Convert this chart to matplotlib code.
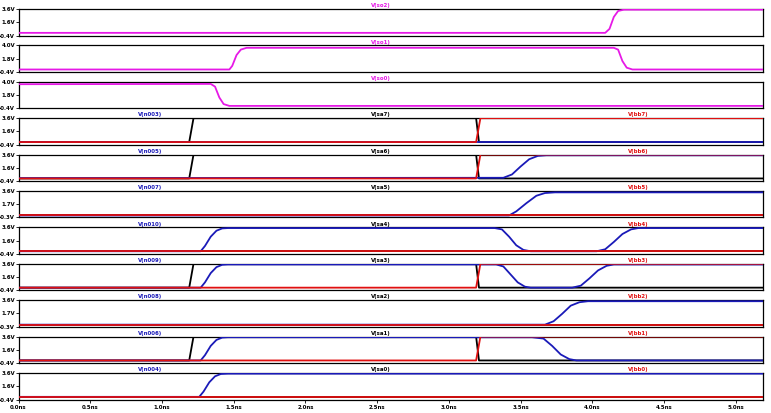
import matplotlib.pyplot as plt

# time axis in ns, voltages in V
t_end = 5.19
xticks = [0.0, 0.5, 1.0, 1.5, 2.0, 2.5, 3.0, 3.5, 4.0, 4.5, 5.0]

so2_t = [0, 4.09, 4.12, 4.15, 4.18, 4.22, t_end]
so2_v = [0, 0, 0.6, 2.4, 3.3, 3.5, 3.5]
so1_t = [0, 1.47, 1.49, 1.52, 1.55, 1.59, 4.15, 4.18, 4.21, 4.24, 4.28, t_end]
so1_v = [0, 0, 0.6, 2.4, 3.3, 3.6, 3.6, 3.3, 1.4, 0.3, 0, 0]
so0_t = [0, 1.34, 1.37, 1.40, 1.43, 1.47, t_end]
so0_v = [3.6, 3.65, 3.2, 1.4, 0.3, 0, 0]

# sa / bb nodes: either a pulse or flat low
sa_pulse_t = [0, 1.19, 1.22, 3.19, 3.21, t_end]
sa_pulse_v = [0, 0, 3.6, 3.6, 0, 0]
bb_step_t = [0, 3.19, 3.22, t_end]
bb_step_v = [0, 0, 3.6, 3.6]
flat_t = [0, t_end]
flat_v = [0, 0]

n003_t = [0, t_end]
n003_v = [0, 0]
n005_t = [0, 3.38, 3.44, 3.50, 3.56, 3.62, 3.68, t_end]
n005_v = [0.05, 0.1, 0.6, 1.8, 2.9, 3.4, 3.5, 3.5]
n007_t = [0, 3.42, 3.47, 3.54, 3.61, 3.67, 3.74, t_end]
n007_v = [0, 0, 0.6, 1.8, 2.9, 3.3, 3.4, 3.4]
n010_t = [0, 1.27, 1.30, 1.34, 1.38, 1.42, 1.46,
          3.32, 3.37, 3.42, 3.47, 3.52, 3.57,
          4.03, 4.09, 4.15, 4.21, 4.27, 4.32, t_end]
n010_v = [0, 0, 0.8, 2.2, 3.1, 3.45, 3.5,
          3.5, 3.3, 2.2, 0.9, 0.2, 0,
          0, 0.3, 1.4, 2.6, 3.3, 3.5, 3.5]
n009_t = [0, 1.27, 1.30, 1.34, 1.38, 1.42, 1.46,
          3.33, 3.38, 3.43, 3.48, 3.53, 3.57,
          3.86, 3.92, 3.98, 4.04, 4.10, 4.15, t_end]
n009_v = [0, 0, 0.8, 2.2, 3.1, 3.45, 3.5,
          3.5, 3.2, 2.0, 0.8, 0.15, 0,
          0, 0.3, 1.4, 2.6, 3.3, 3.5, 3.5]
n008_t = [0, 3.67, 3.73, 3.79, 3.85, 3.91, 3.97, t_end]
n008_v = [0, 0, 0.5, 1.6, 2.8, 3.3, 3.45, 3.45]
n006_t = [0, 1.27, 1.30, 1.34, 1.38, 1.42, 1.46,
          3.58, 3.66, 3.72, 3.78, 3.84, 3.89, t_end]
n006_v = [0, 0, 0.8, 2.2, 3.1, 3.45, 3.5,
          3.5, 3.3, 2.2, 0.9, 0.2, 0, 0]
n004_t = [0, 1.26, 1.29, 1.33, 1.37, 1.41, 1.46, t_end]
n004_v = [0, 0, 0.8, 2.2, 3.1, 3.45, 3.5, 3.5]

MAG = '#e619e6'
BLUE = '#1a1ab8'
RED = '#e01010'
BLK = '#000000'

panels = [
    ((-0.4, 3.6), '1.6V', [('V(so2)', MAG, so2_t, so2_v)]),
    ((-0.4, 4.0), '1.8V', [('V(so1)', MAG, so1_t, so1_v)]),
    ((-0.4, 4.0), '1.8V', [('V(so0)', MAG, so0_t, so0_v)]),
    ((-0.4, 3.6), '1.6V', [('V(n003)', BLUE, n003_t, n003_v), ('V(sa7)', BLK, sa_pulse_t, sa_pulse_v), ('V(bb7)', RED, bb_step_t, bb_step_v)]),
    ((-0.4, 3.6), '1.6V', [('V(n005)', BLUE, n005_t, n005_v), ('V(sa6)', BLK, sa_pulse_t, sa_pulse_v), ('V(bb6)', RED, bb_step_t, bb_step_v)]),
    ((-0.3, 3.6), '1.7V', [('V(n007)', BLUE, n007_t, n007_v), ('V(sa5)', BLK, flat_t, flat_v), ('V(bb5)', RED, flat_t, flat_v)]),
    ((-0.4, 3.6), '1.6V', [('V(n010)', BLUE, n010_t, n010_v), ('V(sa4)', BLK, flat_t, flat_v), ('V(bb4)', RED, flat_t, flat_v)]),
    ((-0.4, 3.6), '1.6V', [('V(n009)', BLUE, n009_t, n009_v), ('V(sa3)', BLK, sa_pulse_t, sa_pulse_v), ('V(bb3)', RED, bb_step_t, bb_step_v)]),
    ((-0.3, 3.6), '1.7V', [('V(n008)', BLUE, n008_t, n008_v), ('V(sa2)', BLK, flat_t, flat_v), ('V(bb2)', RED, flat_t, flat_v)]),
    ((-0.4, 3.6), '1.6V', [('V(n006)', BLUE, n006_t, n006_v), ('V(sa1)', BLK, sa_pulse_t, sa_pulse_v), ('V(bb1)', RED, bb_step_t, bb_step_v)]),
    ((-0.4, 3.6), '1.6V', [('V(n004)', BLUE, n004_t, n004_v), ('V(sa0)', BLK, flat_t, flat_v), ('V(bb0)', RED, flat_t, flat_v)]),
]

# draw order: black under blue under red
zorders = {BLK: 2, BLUE: 3, RED: 4, MAG: 3}

W, H = 771, 413
fig = plt.figure(figsize=(W / 100, H / 100), dpi=100)
fs = 3.9
label_x = [0.177, 0.487, 0.832]

for i, (ylim, mid, traces) in enumerate(panels):
    top = 9 + 36.4 * i
    hgt = 26.5
    ax = fig.add_axes([18.5 / W, 1 - (top + hgt) / H, 744.5 / W, hgt / H])
    for k, (name, col, t, v) in enumerate(traces):
        ax.plot(t, v, color=col, lw=1.3, zorder=zorders[col])
        xpos = 0.487 if len(traces) == 1 else label_x[k]
        ax.text(xpos, 1.03, name, transform=ax.transAxes, color=col, fontsize=fs,
                fontweight='bold', ha='center', va='bottom')
    lo, hi = ylim
    ax.set_ylim(lo, hi)
    ax.set_xlim(0, t_end)
    ax.set_yticks([lo, (lo + hi) / 2, hi])
    ax.set_yticklabels(['%.1fV' % lo, mid, '%.1fV' % hi], fontsize=fs, fontweight='bold')
    ax.tick_params(axis='y', length=2, width=0.6, pad=0.5)
    ax.set_xticks(xticks)
    if i == len(panels) - 1:
        ax.set_xticklabels(['%.1fns' % x for x in xticks], fontsize=fs, fontweight='bold')
        ax.tick_params(axis='x', length=2, width=0.6, pad=2)
    else:
        ax.tick_params(axis='x', length=0, labelbottom=False)
    for s in ax.spines.values():
        s.set_linewidth(0.9)

fig.savefig('out.png', dpi=100)
